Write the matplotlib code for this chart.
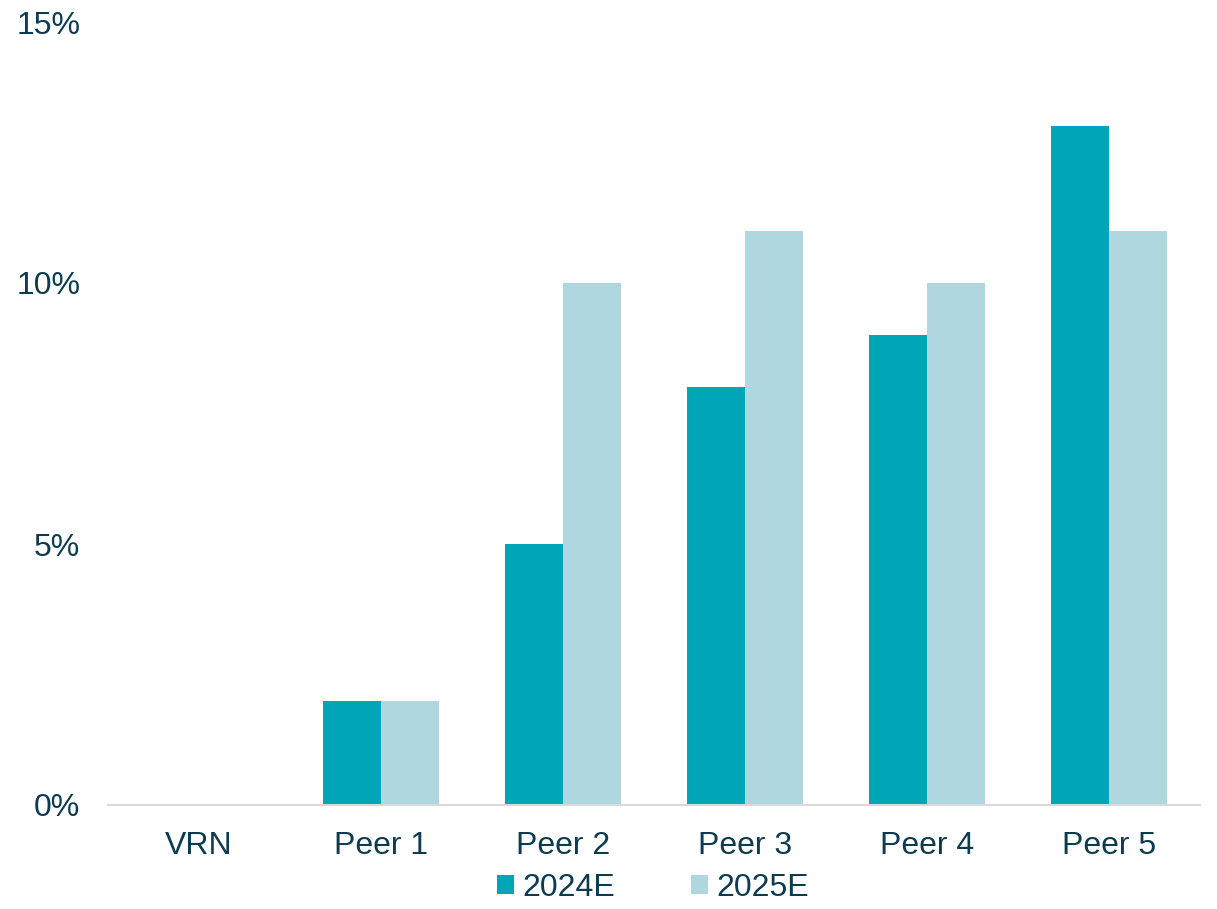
import matplotlib.pyplot as plt
import numpy as np

plt.rcParams['font.family'] = ['Liberation Sans', 'DejaVu Sans']

categories = ['VRN', 'Peer 1', 'Peer 2', 'Peer 3', 'Peer 4', 'Peer 5']
growth_2024e = [0, 2, 5, 8, 9, 13]
growth_2025e = [0, 2, 10, 11, 10, 11]
series_labels = ['2024E', '2025E']
yticks = [0, 5, 10, 15]

text_color = '#0D3B4F'
colors = ['#00A5B8', '#B0D6DF']

fig = plt.figure(figsize=(12.17, 9.09), dpi=100)
ax = fig.add_axes([108 / 1217, 1 - 805 / 909, (1200 - 108) / 1217, (805 - 22) / 909])

x = np.arange(len(categories))
w = 0.32
ax.bar(x - w / 2, growth_2024e, w, color=colors[0], label=series_labels[0])
ax.bar(x + w / 2, growth_2025e, w, color=colors[1], label=series_labels[1])

ax.set_xlim(-0.5, len(categories) - 0.5)
ax.set_ylim(0, 15)
ax.set_yticks(yticks)
ax.set_yticklabels([f'{v}%' for v in yticks])
ax.set_xticks(x)
ax.set_xticklabels(categories)
ax.tick_params(axis='both', length=0, labelsize=23, labelcolor=text_color)
ax.tick_params(axis='y', pad=20)
ax.tick_params(axis='x', pad=19)

for side in ['top', 'right', 'left']:
    ax.spines[side].set_visible(False)
ax.spines['bottom'].set_color('#D9D9D9')
ax.spines['bottom'].set_linewidth(1.5)

leg = fig.legend(loc='center', bbox_to_anchor=(653 / 1217, 1 - 888 / 909), ncol=2,
                 frameon=False, fontsize=23, handlelength=0.53, handleheight=0.53,
                 handletextpad=0.25, columnspacing=2.4, borderpad=0)
for t in leg.get_texts():
    t.set_color(text_color)

fig.savefig('out.png', dpi=100)
